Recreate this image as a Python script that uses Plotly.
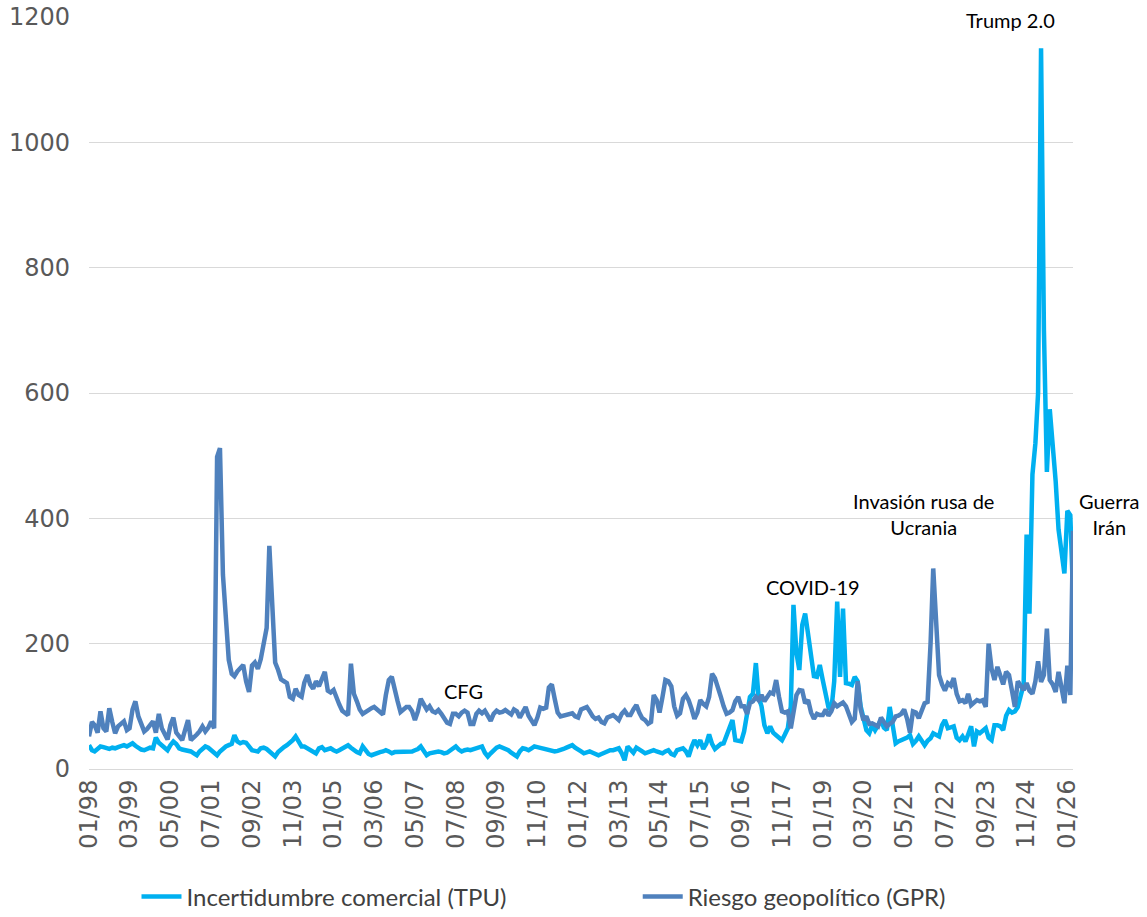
import pandas as pd
import plotly.graph_objects as go

# ---------------- data (monthly, Jan 1998 - Mar 2026) ----------------
tpu_by_year = {
    1998: [38, 30, 28, 32, 36, 35, 33, 32, 34, 33, 35, 37],
    1999: [38, 36, 39, 41, 37, 33, 31, 30, 32, 34, 33, 50],
    2000: [42, 38, 32, 30, 38, 44, 40, 33, 31, 30, 29, 28],
    2001: [25, 22, 28, 33, 36, 34, 30, 26, 22, 28, 33, 36],
    2002: [38, 40, 54, 44, 41, 43, 42, 36, 30, 29, 28, 33],
    2003: [34, 32, 28, 24, 20, 27, 32, 35, 38, 41, 46, 52],
    2004: [42, 36, 36, 33, 30, 27, 25, 33, 35, 30, 31, 33],
    2005: [30, 28, 30, 33, 36, 38, 34, 30, 27, 25, 36, 30],
    2006: [24, 22, 24, 25, 27, 28, 30, 28, 25, 27, 27, 28],
    2007: [28, 28, 28, 28, 30, 32, 36, 28, 22, 25, 26, 27],
    2008: [28, 27, 25, 26, 29, 32, 36, 31, 28, 30, 31, 30],
    2009: [32, 34, 35, 36, 26, 20, 25, 30, 34, 36, 34, 33],
    2010: [30, 26, 22, 20, 28, 33, 32, 30, 33, 36, 35, 34],
    2011: [33, 31, 30, 29, 28, 29, 30, 32, 34, 36, 38, 34],
    2012: [30, 28, 25, 26, 28, 26, 23, 22, 24, 26, 28, 30],
    2013: [30, 31, 33, 25, 14, 36, 30, 26, 34, 32, 28, 25],
    2014: [27, 30, 30, 28, 27, 25, 28, 30, 24, 22, 30, 32],
    2015: [33, 28, 20, 35, 46, 38, 46, 32, 40, 55, 40, 32],
    2016: [37, 40, 41, 54, 65, 78, 46, 45, 44, 60, 85, 115],
    2017: [120, 169, 115, 100, 70, 57, 68, 58, 54, 50, 46, 55],
    2018: [65, 100, 262, 185, 158, 230, 248, 215, 175, 148, 147, 166],
    2019: [142, 120, 99, 94, 140, 267, 147, 256, 137, 136, 134, 147],
    2020: [140, 100, 80, 62, 57, 70, 62, 72, 78, 66, 62, 99],
    2021: [70, 41, 44, 46, 48, 50, 54, 40, 45, 52, 45, 38],
    2022: [45, 49, 57, 55, 52, 70, 78, 65, 66, 68, 50, 46],
    2023: [52, 44, 55, 68, 36, 60, 57, 60, 65, 50, 46, 70],
    2024: [70, 68, 62, 85, 94, 90, 92, 99, 120, 135, 374, 248],
    2025: [470, 520, 600, 1150, 700, 474, 574, 520, 459, 382, 345, 312],
    2026: [412, 405, 281],
}

gpr_by_year = {
    1998: [52, 75, 70, 58, 92, 65, 60, 97, 75, 57, 68, 72],
    1999: [76, 62, 65, 95, 108, 84, 70, 60, 64, 70, 76, 58],
    2000: [88, 65, 55, 47, 70, 82, 58, 52, 46, 62, 78, 46],
    2001: [50, 55, 60, 68, 60, 66, 76, 65, 498, 512, 310, 230],
    2002: [174, 152, 148, 156, 162, 166, 140, 123, 165, 170, 160, 175],
    2003: [200, 225, 356, 240, 170, 158, 143, 140, 137, 115, 112, 128],
    2004: [118, 115, 138, 150, 135, 128, 140, 132, 145, 155, 125, 122],
    2005: [126, 112, 103, 93, 89, 86, 168, 120, 108, 95, 88, 92],
    2006: [94, 97, 99, 95, 92, 87, 118, 142, 147, 125, 108, 91],
    2007: [96, 99, 99, 92, 78, 92, 112, 105, 95, 100, 92, 90],
    2008: [94, 88, 82, 74, 72, 88, 88, 84, 90, 93, 90, 72],
    2009: [72, 88, 93, 89, 93, 84, 77, 88, 93, 90, 91, 94],
    2010: [90, 87, 95, 92, 82, 90, 99, 85, 76, 70, 82, 98],
    2011: [96, 98, 130, 135, 112, 90, 84, 85, 86, 88, 89, 84],
    2012: [82, 95, 97, 99, 92, 84, 80, 82, 75, 73, 82, 85],
    2013: [86, 82, 78, 88, 93, 86, 86, 95, 102, 90, 81, 78],
    2014: [72, 75, 118, 110, 90, 115, 142, 140, 132, 100, 85, 89],
    2015: [112, 118, 110, 96, 80, 90, 110, 104, 100, 115, 152, 145],
    2016: [132, 115, 100, 88, 90, 94, 108, 115, 100, 100, 88, 105],
    2017: [108, 115, 110, 118, 108, 115, 122, 120, 142, 115, 92, 90],
    2018: [92, 65, 95, 118, 126, 125, 105, 110, 90, 80, 88, 86],
    2019: [86, 95, 85, 92, 105, 100, 103, 106, 100, 88, 75, 80],
    2020: [140, 95, 78, 84, 72, 73, 70, 68, 82, 76, 68, 72],
    2021: [75, 84, 85, 88, 95, 80, 58, 92, 90, 81, 95, 105],
    2022: [107, 200, 320, 230, 150, 135, 125, 137, 133, 145, 120, 108],
    2023: [110, 105, 120, 102, 105, 110, 108, 110, 99, 200, 160, 142],
    2024: [163, 148, 135, 155, 150, 125, 99, 140, 131, 126, 137, 125],
    2025: [120, 140, 172, 139, 150, 224, 142, 135, 123, 155, 130, 105],
    2026: [165, 118, 380],
}

tpu = [v for y in sorted(tpu_by_year) for v in tpu_by_year[y]]
gpr = [v for y in sorted(gpr_by_year) for v in gpr_by_year[y]]
dates = pd.date_range("1998-01-01", periods=len(tpu), freq="MS")

tick_dates = pd.date_range("1998-01-01", "2026-01-01", freq="14MS")
tick_labels = [d.strftime("%m/%y") for d in tick_dates]

y_ticks = [0, 200, 400, 600, 800, 1000, 1200]

TPU_COLOR = "#00B0F0"
GPR_COLOR = "#4F81BD"

fig = go.Figure()
fig.add_trace(go.Scatter(x=dates, y=tpu, mode="lines",
                         name="Incertidumbre comercial (TPU)", legend="legend",
                         line=dict(color=TPU_COLOR, width=4.5)))
fig.add_trace(go.Scatter(x=dates, y=gpr, mode="lines",
                         name="Riesgo geopolítico (GPR)", legend="legend2",
                         line=dict(color=GPR_COLOR, width=4.5)))

ann_font = dict(family="Lato, Carlito, sans-serif", size=20, color="#000000")
annotations = [
    dict(x="2024-05-15", y=1195, text="Trump 2.0"),
    dict(x="2021-11-20", y=407, text="Invasión rusa de<br>Ucrania"),
    dict(x="2018-09-25", y=290, text="COVID-19"),
    dict(x="2008-09-15", y=124, text="CFG"),
]
for a in annotations:
    fig.add_annotation(x=a["x"], y=a["y"], text=a["text"], showarrow=False,
                       xref="x", yref="y", xanchor="center", yanchor="middle",
                       font=ann_font, align="center")
fig.add_annotation(x=1.004, y=407, xref="paper", yref="y", text="Guerra<br>Irán",
                   showarrow=False, xanchor="left", yanchor="middle",
                   font=ann_font, align="center")

legend_font = dict(family="Lato, Carlito, sans-serif", size=24, color="#404040")
common_leg = dict(orientation="h", xref="container", yref="container",
                  xanchor="left", yanchor="middle", font=legend_font,
                  bgcolor="rgba(0,0,0,0)", itemwidth=40)

fig.update_layout(
    width=1147, height=917,
    margin=dict(l=89, r=74, t=17, b=148, autoexpand=False),
    paper_bgcolor="white", plot_bgcolor="white",
    showlegend=True,
    legend=dict(x=0.119, y=0.022, **common_leg),
    legend2=dict(x=0.556, y=0.022, **common_leg),
    xaxis=dict(type="date", range=[dates[0], dates[-1]],
               tickvals=list(tick_dates), ticktext=tick_labels, tickangle=-90,
               tickfont=dict(family="DejaVu Sans", size=24, color="#595959"),
               showgrid=False, showline=True, linecolor="#D9D9D9", linewidth=1,
               ticks="", zeroline=False, automargin=False),
    yaxis=dict(range=[0, 1200], tickvals=y_ticks,
               tickfont=dict(family="DejaVu Sans", size=24, color="#595959"),
               showgrid=True, gridcolor="#D9D9D9", gridwidth=1,
               zeroline=False, showline=False, ticks="", ticklabelstandoff=18,
               automargin=False),
)

fig.write_html("out.html")
